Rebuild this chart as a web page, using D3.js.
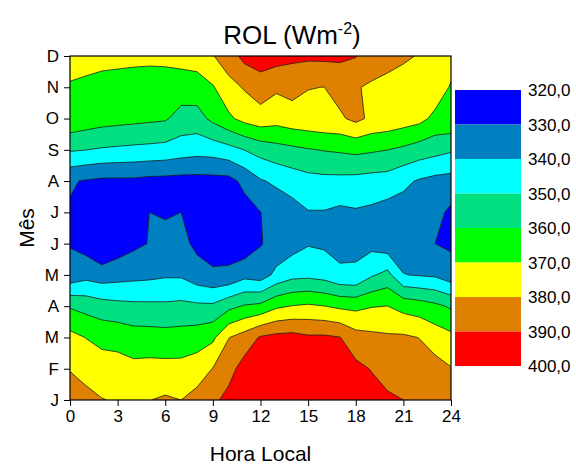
<!DOCTYPE html>
<html>
<head>
<meta charset="utf-8">
<script src="https://cdn.jsdelivr.net/npm/d3@7"></script>
<style>
  body { margin: 0; background: #fff; }
  svg { font-family: "Liberation Sans", Arial, sans-serif; }
</style>
</head>
<body>
<svg id="chart" width="576" height="464"></svg>
<script>
// horas (colunas) e meses (linhas) da grade
var hours = [0,1,2,3,4,5,6,7,8,9,10,11,12,13,14,15,16,17,18,19,20,21,22,23,24];
var months = ["J","F","M","A","M","J","J","A","S","O","N","D"];
var xTicks = [0,3,6,9,12,15,18,21,24];

// niveis das isolinhas e cores das faixas (da mais baixa para a mais alta)
var levels = [330,340,350,360,370,380,390];
var bandColors = ["#0000ff","#0080c0","#00ffff","#00e080","#00ff00","#ffff00","#e08000","#ff0000"];
var legendValues = [320,330,340,350,360,370,380,390,400];
var legendLabels = ["320,0","330,0","340,0","350,0","360,0","370,0","380,0","390,0","400,0"];

// ROL (W m-2) por hora local, um vetor por mes
var rolJan = [385,383,380.4,379.1,378,379.8,381.3,380,383.5,388,392.8,398,402,404,405,403,401,399,396,394,391.5,390,388,387,384];
var rolFev = [379.5,376.5,374.4,373.8,372.6,373.1,373,373,375,380.3,386.7,394,398,402,403,400,398,396,392.5,389.5,386.4,386,385,383.5,380.5];
var rolMar = [373,369.8,367.3,366.7,364.5,364.3,363.8,364.2,365.3,368.1,379.7,384.5,391,393,393.5,391.5,391.7,390.3,384,382.4,381.4,381.5,379.8,375.5,372.6];
var rolAbr = [359,356.6,354.3,352.9,352.2,352,351.8,352.5,351.8,351.7,357.2,360.9,362.4,368.2,370.4,371.5,370.2,368.2,367.4,369.5,370.1,366.6,364.8,362.3,358.6];
var rolMai = [333,336.6,334.7,336.1,337,337.7,338.8,338.7,334.3,331.8,332,336.9,335,342.6,346.9,347.5,346,341.8,341.4,348.8,353.1,340.3,339.3,338.5,334.1];
var rolJun = [329.5,326,320,324.5,327.9,330.4,334.8,333,327.6,325,325.5,323.5,329.5,333,336,339.3,338.5,337,338,337,334,335,332,330,328.5];
var rolJul = [329,327,323,323,324,330,328.5,330,325,323,324,326,329.9,333,336,339.5,339.5,338,339,338,336,336,335,333,328];
var rolAgo = [331,329.2,328,328,328,327,326.8,326.4,326.4,326.6,326.8,332.6,339,341.9,344.5,346.6,347.2,347.2,346.8,346,345.5,342,339,337,336.3];
var rolSet = [351,350.1,349,348.3,347.7,347.2,346.5,344.8,343.6,344.2,346.6,350.2,353.9,356.3,357.8,359.3,360.5,361.3,362.4,361.3,360.1,358.1,355.4,353.4,351.2];
var rolOut = [367.6,365.7,364.1,363.3,362.6,361.8,361.1,356.3,356,362.5,368.2,373.2,375.9,374,376,377,378,378.5,382.5,378,377,375,373,367.5,368];
var rolNov = [368.8,367.9,367.1,366.8,366.4,366.2,366.2,365.1,365.6,369.2,376.7,380.9,385.1,381.5,383,380.3,379.9,383.7,380.6,378.8,377.8,376.5,374.6,376,369];
var rolDez = [375,373.7,372.7,372.3,372,371.8,372,373.5,374.5,379.5,385.5,393,395.1,394.3,392.2,391.9,392.1,391.7,390.5,384.8,382.6,381.2,379.5,378,374.9];

var rows = [rolJan,rolFev,rolMar,rolAbr,rolMai,rolJun,rolJul,rolAgo,rolSet,rolOut,rolNov,rolDez];
var grid = [];
rows.forEach(function(r){ grid = grid.concat(r); });

var svg = d3.select("#chart");
var pLeft = 70, pRight = 451, pTop = 56, pBottom = 400;

var x = d3.scaleLinear().domain([0, 24]).range([pLeft, pRight]);
var y = d3.scaleLinear().domain([0, 11]).range([pBottom, pTop]);

// contornos (d3 coloca o valor da celula i em i+0.5)
var contours = d3.contours()
  .size([hours.length, months.length])
  .thresholds(levels)(grid);

var proj = d3.geoTransform({
  point: function(px, py) {
    this.stream.point(x(hours[0] + (px - 0.5) * (hours[1] - hours[0])), y(py - 0.5));
  }
});
var path = d3.geoPath(proj);

svg.append("clipPath").attr("id", "plotclip")
  .append("rect")
  .attr("x", pLeft).attr("y", pTop)
  .attr("width", pRight - pLeft).attr("height", pBottom - pTop);

var plot = svg.append("g").attr("clip-path", "url(#plotclip)");

plot.append("rect")
  .attr("x", pLeft).attr("y", pTop)
  .attr("width", pRight - pLeft).attr("height", pBottom - pTop)
  .attr("fill", bandColors[0]);

plot.selectAll("path.band")
  .data(contours)
  .enter().append("path")
  .attr("class", "band")
  .attr("d", path)
  .attr("fill", function(d, i) { return bandColors[i + 1]; })
  .attr("stroke", "none");

plot.selectAll("path.iso")
  .data(contours)
  .enter().append("path")
  .attr("class", "iso")
  .attr("d", path)
  .attr("fill", "none")
  .attr("stroke", "#1e1e1e")
  .attr("stroke-width", 0.8);

// moldura
svg.append("rect")
  .attr("x", pLeft).attr("y", pTop)
  .attr("width", pRight - pLeft).attr("height", pBottom - pTop)
  .attr("fill", "none")
  .attr("stroke", "#000")
  .attr("stroke-width", 1.2);

// eixos
var xAxis = svg.append("g")
  .attr("transform", "translate(0," + pBottom + ")")
  .call(d3.axisBottom(x).tickValues(xTicks).tickSize(6).tickPadding(4));
var yAxis = svg.append("g")
  .attr("transform", "translate(" + pLeft + ",0)")
  .call(d3.axisLeft(y)
    .tickValues(months.map(function(m, i) { return i; }))
    .tickFormat(function(i) { return months[i]; })
    .tickSize(6).tickPadding(5));

[xAxis, yAxis].forEach(function(g) {
  g.select(".domain").remove();
  g.selectAll("line").attr("stroke", "#000");
  g.selectAll("text")
    .attr("fill", "#000")
    .style("font-size", "17px")
    .style("font-family", "'Liberation Sans', Arial, sans-serif");
});

// titulos
var title = svg.append("text")
  .attr("x", 292).attr("y", 44)
  .attr("text-anchor", "middle")
  .style("font-size", "26px");
title.append("tspan").text("ROL (Wm");
title.append("tspan").attr("dy", -10).style("font-size", "16px").text("-2");
title.append("tspan").attr("dy", 10).text(")");

svg.append("text")
  .attr("x", (pLeft + pRight) / 2).attr("y", 461)
  .attr("text-anchor", "middle")
  .style("font-size", "21px")
  .text("Hora Local");

svg.append("text")
  .attr("transform", "translate(34,228) rotate(-90)")
  .attr("text-anchor", "middle")
  .style("font-size", "21px")
  .text("M\u00eas");

// legenda
var yLeg = d3.scaleLinear().domain([320, 400]).range([90, 366]);
var legend = svg.append("g");
legend.selectAll("rect")
  .data(bandColors)
  .enter().append("rect")
  .attr("x", 455)
  .attr("y", function(d, i) { return yLeg(legendValues[i]); })
  .attr("width", 66)
  .attr("height", function(d, i) { return yLeg(legendValues[i + 1]) - yLeg(legendValues[i]); })
  .attr("fill", function(d) { return d; });
legend.selectAll("text")
  .data(legendLabels)
  .enter().append("text")
  .attr("x", 528)
  .attr("y", function(d, i) { return yLeg(legendValues[i]) + 2; })
  .attr("dominant-baseline", "middle")
  .style("font-size", "17px")
  .text(function(d) { return d; });
</script>
</body>
</html>
